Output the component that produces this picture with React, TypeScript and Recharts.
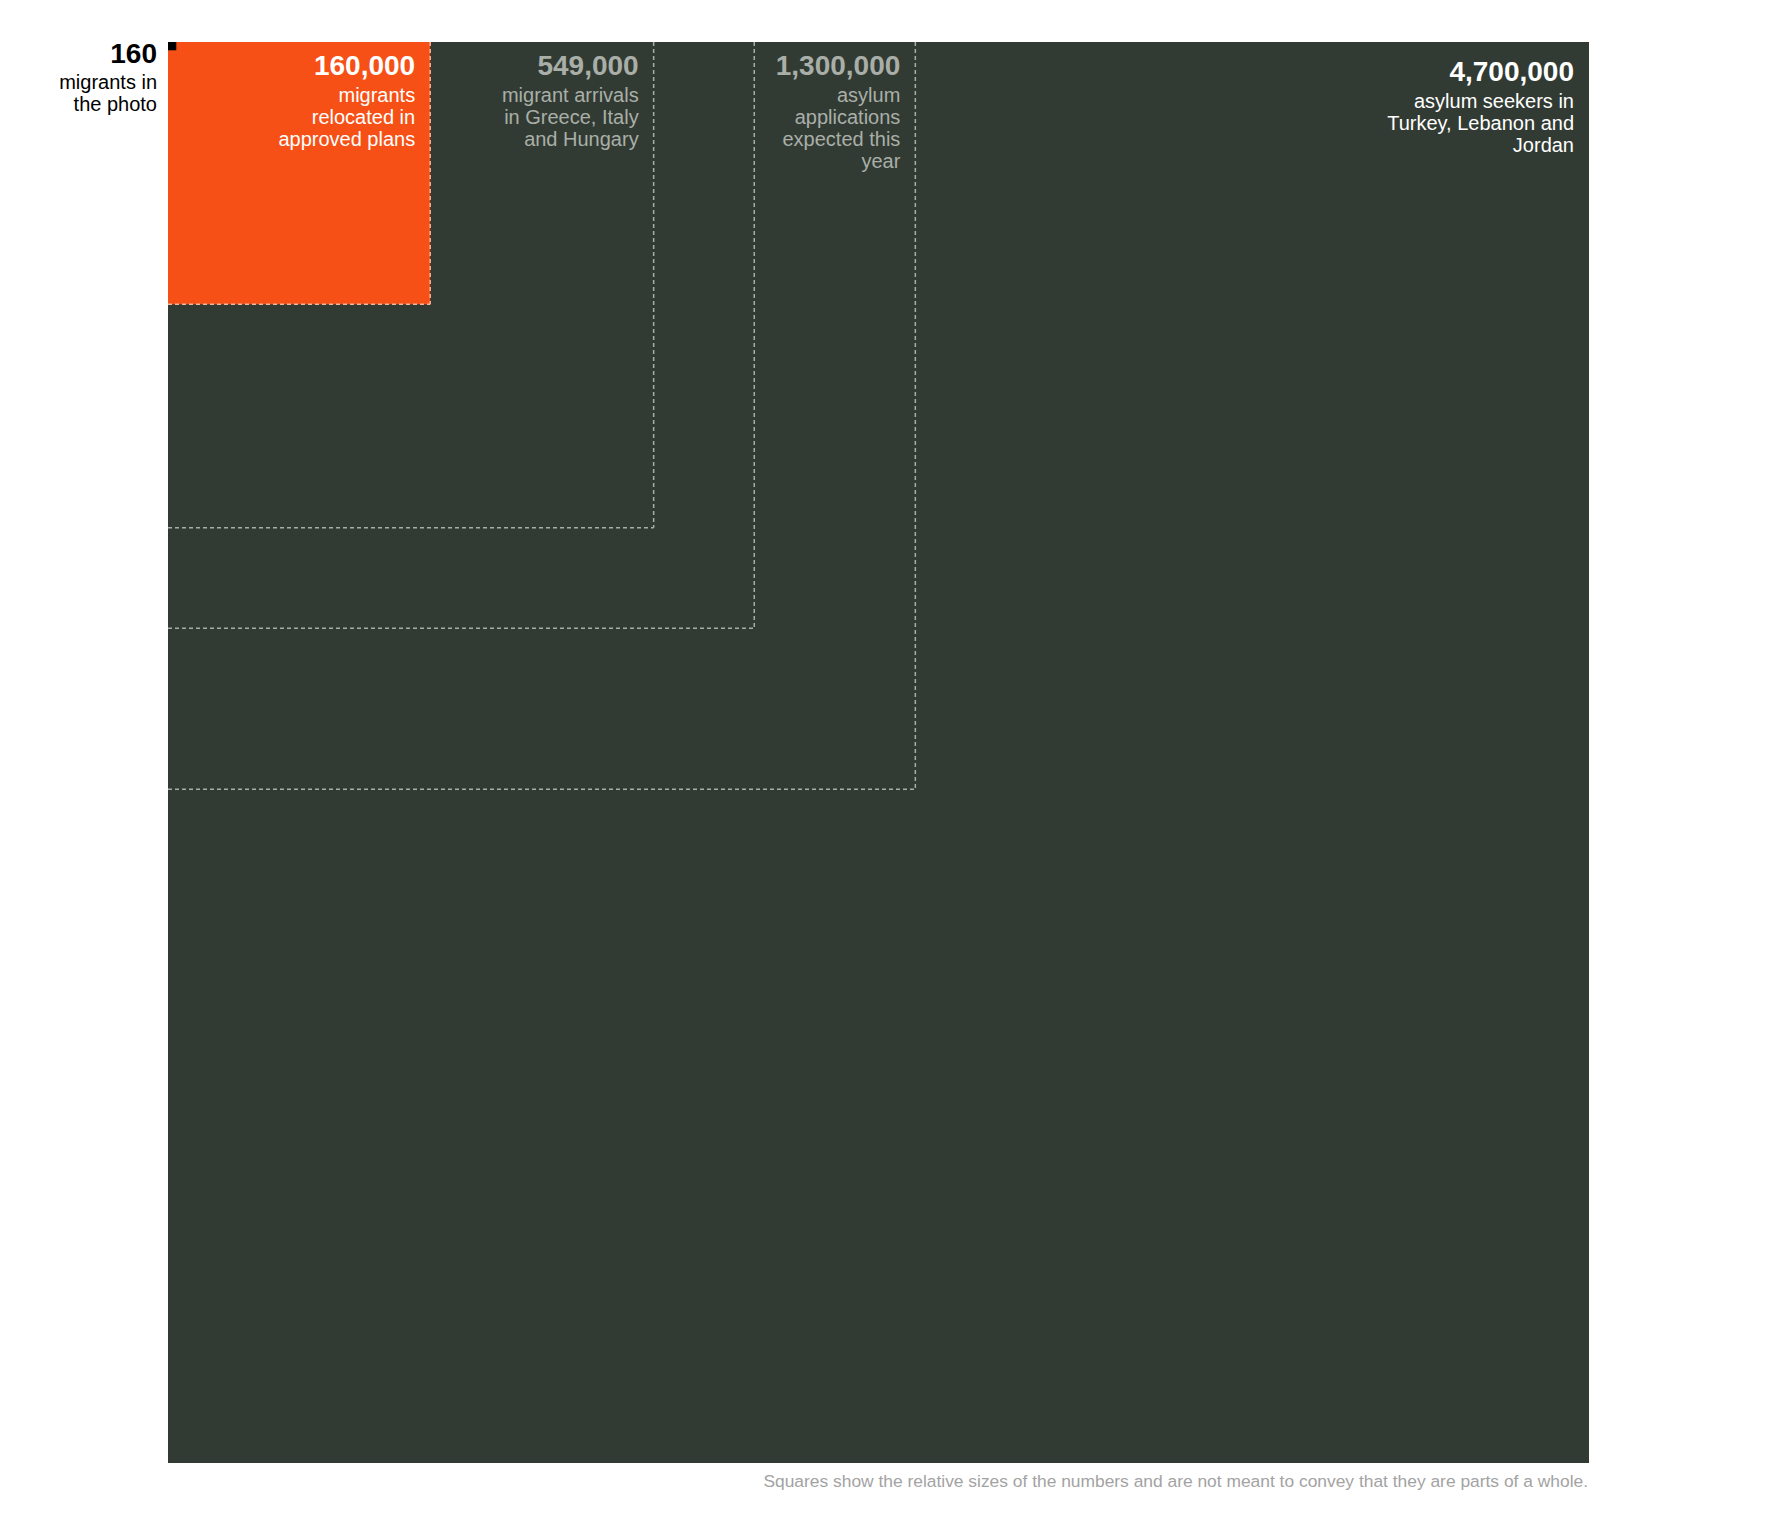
import React from 'react';
import { ComposedChart, XAxis, YAxis, Scatter, ReferenceArea, ReferenceLine } from 'recharts';

// values, largest first so smaller squares are drawn on top
const values = [4700000, 1300000, 800000, 549000, 160000, 160];
const numberLabels = ['4,700,000', '1,300,000', '', '549,000', '160,000', '160'];
const descriptions = [
  ['asylum seekers in', 'Turkey, Lebanon and', 'Jordan'],
  ['asylum', 'applications', 'expected this', 'year'],
  [],
  ['migrant arrivals', 'in Greece, Italy', 'and Hungary'],
  ['migrants', 'relocated in', 'approved plans'],
  ['migrants in', 'the photo'],
];
const footnote =
  'Squares show the relative sizes of the numbers and are not meant to convey that they are parts of a whole.';

// styling per square (same order as values)
const squareStyles = [
  { fill: '#323b33', border: null, text: '#ffffff', numY: 39, lineY: 66, outside: false },
  { fill: '#323b33', border: '#a7ada7', text: '#a9afa8', numY: 33, lineY: 60, outside: false },
  { fill: '#323b33', border: '#a7ada7', text: '#a9afa8', numY: 33, lineY: 60, outside: false },
  { fill: '#323b33', border: '#a7ada7', text: '#a9afa8', numY: 33, lineY: 60, outside: false },
  { fill: '#f65016', border: '#f7b59b', text: '#ffffff', numY: 33, lineY: 60, outside: false },
  { fill: '#000000', border: null, text: '#000000', numY: 21, lineY: 47, outside: true },
];

const FONT = '"Liberation Sans", Arial, sans-serif';

const squares = values.map((v, i) => ({
  value: v,
  side: Math.sqrt(v),
  number: numberLabels[i],
  lines: descriptions[i],
}));
const maxSide = Math.sqrt(Math.max(...values));

const SquareLabel = (props: any) => {
  const { viewBox, idx } = props;
  if (!viewBox) return null;
  const sq = squares[idx];
  const st = squareStyles[idx];
  if (!sq.number) return null;
  const anchorX = st.outside ? viewBox.x - 11 : viewBox.x + viewBox.width - 15;
  const top = viewBox.y;
  return (
    <g>
      <text
        x={anchorX}
        y={top + st.numY}
        textAnchor="end"
        fill={st.text}
        fontFamily={FONT}
        fontWeight="bold"
        fontSize={28}
      >
        {sq.number}
      </text>
      {sq.lines.map((ln, j) => (
        <text
          key={j}
          x={anchorX}
          y={top + st.lineY + j * 22}
          textAnchor="end"
          fill={st.text}
          fontFamily={FONT}
          fontSize={20}
        >
          {ln}
        </text>
      ))}
    </g>
  );
};

const App: React.FC = () => {
  return (
    <div style={{ position: 'relative', width: 1600, height: 1490 }}>
      <ComposedChart
        width={1600}
        height={1460}
        data={squares}
        margin={{ top: 34, left: 160, right: 19, bottom: 5 }}
      >
        <XAxis dataKey="side" type="number" domain={[0, maxSide]} hide />
        <YAxis type="number" domain={[0, maxSide]} reversed hide />
        <Scatter dataKey="side" isAnimationActive={false} shape={() => <g />} />
        {squares.map((sq, i) => (
          <ReferenceArea
            key={`area-${i}`}
            x1={0}
            x2={sq.side}
            y1={0}
            y2={sq.side}
            fill={squareStyles[i].fill}
            fillOpacity={1}
            stroke="none"
            ifOverflow="visible"
          />
        ))}
        {squares.map((sq, i) =>
          squareStyles[i].border ? (
            <ReferenceLine
              key={`v-${i}`}
              segment={[
                { x: sq.side, y: 0 },
                { x: sq.side, y: sq.side },
              ]}
              stroke={squareStyles[i].border as string}
              strokeWidth={1.5}
              strokeDasharray="4 3"
              ifOverflow="visible"
            />
          ) : null
        )}
        {squares.map((sq, i) =>
          squareStyles[i].border ? (
            <ReferenceLine
              key={`h-${i}`}
              segment={[
                { x: 0, y: sq.side },
                { x: sq.side, y: sq.side },
              ]}
              stroke={squareStyles[i].border as string}
              strokeWidth={1.5}
              strokeDasharray="4 3"
              ifOverflow="visible"
            />
          ) : null
        )}
        {squares.map((sq, i) => (
          <ReferenceArea
            key={`label-${i}`}
            x1={0}
            x2={sq.side}
            y1={0}
            y2={sq.side}
            fill="none"
            fillOpacity={0}
            stroke="none"
            ifOverflow="visible"
            label={<SquareLabel idx={i} />}
          />
        ))}
      </ComposedChart>
      <div
        style={{
          position: 'absolute',
          top: 1463,
          left: 0,
          width: 1580,
          textAlign: 'right',
          fontFamily: FONT,
          fontSize: 17.4,
          color: '#a3a3a3',
          whiteSpace: 'nowrap',
        }}
      >
        {footnote}
      </div>
    </div>
  );
};

export default App;
